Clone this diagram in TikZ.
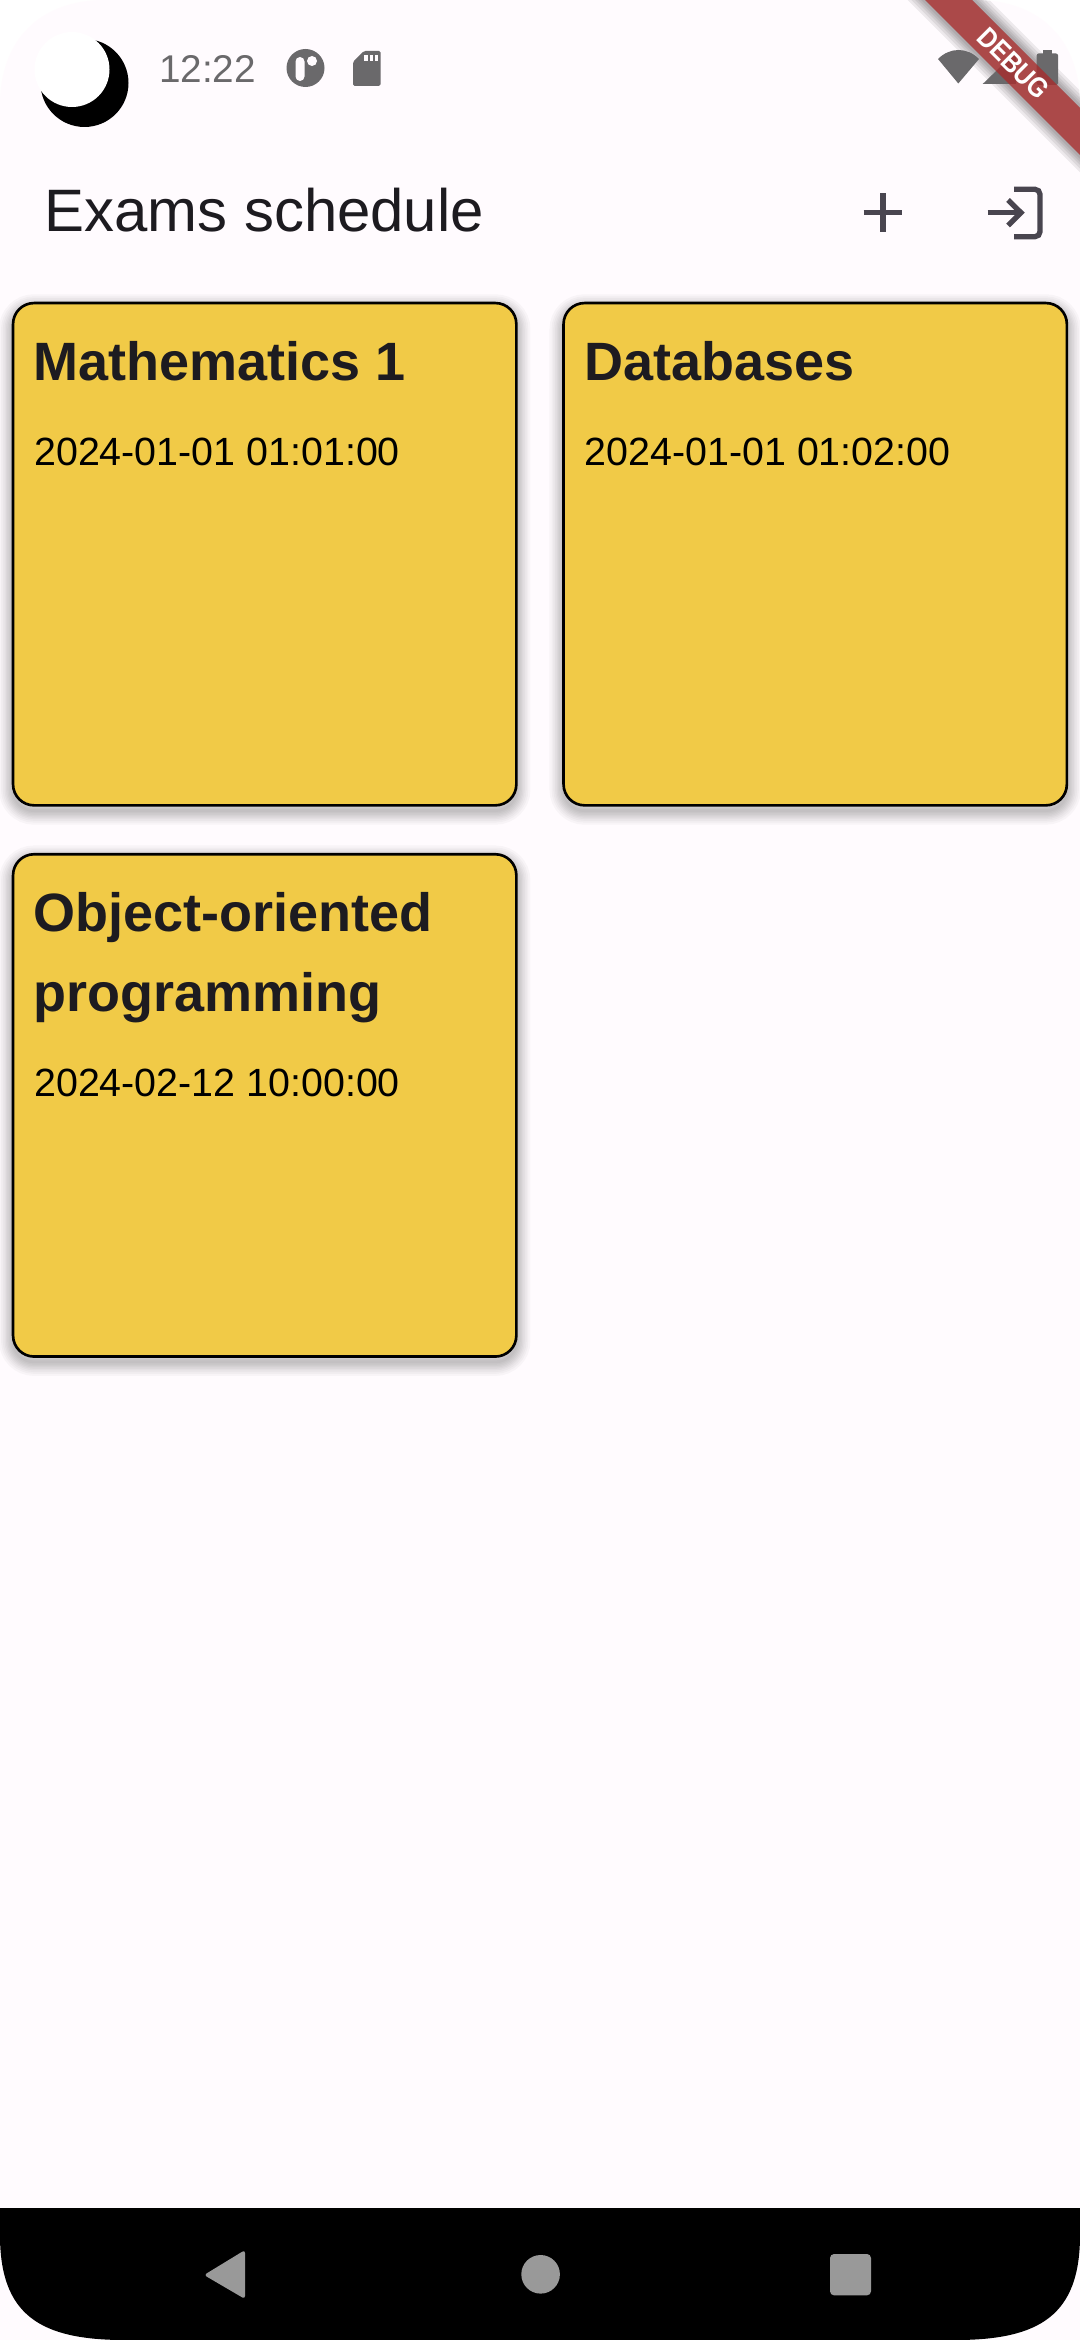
\documentclass[tikz,border=0pt]{standalone}
\usepackage{fontspec}
\setmainfont{Liberation Sans}
\usepackage{tikz}

\definecolor{screenbg}{HTML}{FFFBFE}
\definecolor{cardfill}{HTML}{F1CA47}
\definecolor{inktext}{HTML}{1D1B20}
\definecolor{statusgrey}{HTML}{6A696B}
\definecolor{actiongrey}{HTML}{49454F}
\definecolor{navgrey}{HTML}{999999}
\definecolor{bannerred}{HTML}{B71C1C}

\begin{document}
\begin{tikzpicture}[
            x=0.01cm, y=-0.01cm,
            softstep/.style={preaction={draw=black, draw opacity=0.026, line width=#1, transform canvas={yshift=-1.5pt}}},
            card/.style={softstep=8pt, softstep=6.8pt, softstep=5.8pt, softstep=4.8pt, softstep=4pt, softstep=3.2pt, softstep=2.4pt, softstep=1.6pt, softstep=0.8pt,
                draw=black, line width=0.75pt, fill=cardfill, rounded corners=0.21cm, inner sep=0pt, minimum width=5.03cm, minimum height=5.02cm},
            cardtitle/.style={anchor=base west, inner sep=0pt, align=left, text=inktext, font=\fontsize{15.35}{22.7}\selectfont\bfseries},
            carddate/.style={anchor=base west, inner sep=0pt, text=black, font=\fontsize{11.2}{13}\selectfont},
            statusicon/.style={fill=statusgrey},
            action/.style={draw=actiongrey, line width=1.5pt},
            navicon/.style={fill=navgrey},
            ribbonglow/.style={draw=black, draw opacity=0.07, line width=#1}
        ]
        \useasboundingbox (0,0) rectangle (1080,2340);

        % screen
        \fill[white] (0,0) rectangle (1080,2340);
        \fill[screenbg] (0,105) .. controls (0,40) and (40,0) .. (105,0) -- (975,0) .. controls (1040,0) and (1080,40) .. (1080,105) -- (1080,2340) -- (0,2340) -- cycle;

        % shadow of the debug banner
        \begin{scope}
        \clip (0,105) .. controls (0,40) and (40,0) .. (105,0) -- (975,0) .. controls (1040,0) and (1080,40) .. (1080,105) -- (1080,2340) -- (0,2340) -- cycle;
        \draw[ribbonglow=7pt] (875,-50) -- (922,-50) -- (1130,158) -- (1130,205) -- cycle;
        \draw[ribbonglow=5.5pt] (875,-50) -- (922,-50) -- (1130,158) -- (1130,205) -- cycle;
        \draw[ribbonglow=4pt] (875,-50) -- (922,-50) -- (1130,158) -- (1130,205) -- cycle;
        \draw[ribbonglow=2.8pt] (875,-50) -- (922,-50) -- (1130,158) -- (1130,205) -- cycle;
        \draw[ribbonglow=1.6pt] (875,-50) -- (922,-50) -- (1130,158) -- (1130,205) -- cycle;
        \fill[black!40!screenbg] (875,-50) -- (922,-50) -- (1130,158) -- (1130,205) -- cycle;
        \end{scope}

        % status bar
        \fill[black] (84.5,83) circle (44);
        \fill[white] (72,69.5) circle (37.5);
        \node[anchor=base west, inner sep=0pt, text=statusgrey, font=\fontsize{11}{13}\selectfont] (clock) at (158.5,82.7) {12:22};
        \fill[statusicon] (305.5,68) circle (19);
        \fill[screenbg, rounded corners=0.045cm] (295.5,57) rectangle (304.5,81);
        \fill[screenbg] (312,61) circle (5);
        \fill[statusicon, rounded corners=0.015cm] (364,51) -- (380.5,51) -- (380.5,86) -- (353,86) -- (353,62) -- cycle;
        \fill[screenbg] (364,55.5) rectangle (367.5,61.5);
        \fill[screenbg] (369.5,55.5) rectangle (373,61.5);
        \fill[screenbg] (375,55.5) rectangle (378,61.5);
        \fill[statusicon] (958.3,83.5) -- (938,59) .. controls (950,47) and (967,47) .. (979,59) -- cycle;
        \fill[statusicon] (982.7,84) -- (1016,51.7) -- (1016,84) -- cycle;
        \fill[statusicon, rounded corners=0.02cm] (1036.7,53.5) rectangle (1058,85);
        \fill[statusicon] (1042.7,50) rectangle (1051.7,54);

        % app bar
        \node[anchor=base west, inner sep=0pt, text=inktext, font=\fontsize{17.03}{20}\selectfont] (heading) at (43.8,232) {Exams schedule};
        \draw[action] (863.7,212.7) -- (902.3,212.7);
        \draw[action] (883,193.4) -- (883,232);
        \draw[action] (987.7,212.7) -- (1022,212.7);
        \draw[action] (1008,200) -- (1021,212.7) -- (1008,225.5);
        \draw[action, rounded corners=0.05cm] (1014,189.3) -- (1040,189.3) -- (1040,236.7) -- (1014,236.7);

        % cards
        \node[card] (card1) at (264.7,554.2) {};
        \node[card] (card2) at (815.2,554.2) {};
        \node[card] (card3) at (264.7,1105.4) {};

        \node[cardtitle] (title1) at (32.5,381) {Mathematics 1};
        \node[carddate] (date1) at (33.5,465.7) {2024-01-01 01:01:00};
        \node[cardtitle] (title2) at (584,381) {Databases};
        \node[carddate] (date2) at (584,465.7) {2024-01-01 01:02:00};
        \node[cardtitle] (title3) at (32.5,1011) {Object-oriented\\programming};
        \node[carddate] (date3) at (33.5,1096) {2024-02-12 10:00:00};

        % navigation bar
        \fill[black] (0,2208) -- (1080,2208) -- (1080,2235) .. controls (1080,2315) and (1040,2340) .. (955,2340) -- (125,2340) .. controls (40,2340) and (0,2315) .. (0,2235) -- cycle;
        \fill[navicon, rounded corners=0.03cm] (204,2275) -- (245,2250) -- (245,2299) -- cycle;
        \fill[navicon] (540.6,2274.3) circle (19.3);
        \fill[navicon, rounded corners=0.04cm] (830,2254) rectangle (871,2295.3);

        % debug banner
        \begin{scope}
        \clip (0,105) .. controls (0,40) and (40,0) .. (105,0) -- (975,0) .. controls (1040,0) and (1080,40) .. (1080,105) -- (1080,2340) -- (0,2340) -- cycle;
        \fill[bannerred, fill opacity=0.63] (875,-50) -- (922,-50) -- (1130,158) -- (1130,205) -- cycle;
        \end{scope}
        \node[rotate=-45, inner sep=0pt, text=white, font=\fontsize{8}{9}\selectfont\bfseries] (debug) at (1013.5,63.5) {\scalebox{0.86}[1]{DEBUG}};
\end{tikzpicture}
\end{document}
